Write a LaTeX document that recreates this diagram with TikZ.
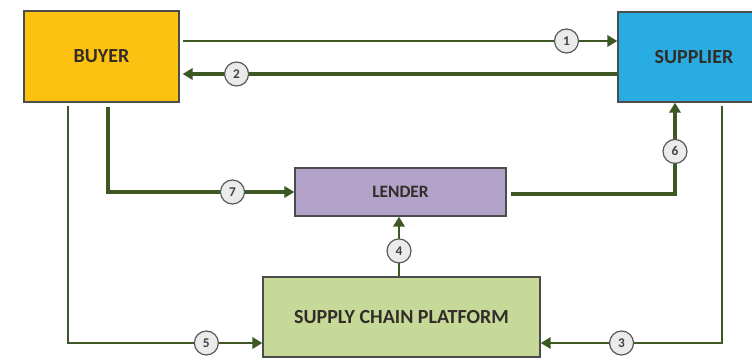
\documentclass[tikz,border=0pt]{standalone}
\usepackage{fontspec}
\setmainfont{Carlito}
\usetikzlibrary{arrows.meta}

\definecolor{buyercol}{RGB}{253,193,16}
\definecolor{suppliercol}{RGB}{41,172,226}
\definecolor{lendercol}{RGB}{178,161,200}
\definecolor{platformcol}{RGB}{198,217,152}
\definecolor{flowcol}{RGB}{62,88,36}
\definecolor{textcol}{RGB}{50,45,40}

\tikzset{
    party/.style={draw=black!70, line width=1pt, fill=#1, text=textcol,
        font=\fontsize{15}{18}\selectfont\bfseries, inner sep=0pt},
    flow/.style={draw=flowcol, line width=1.9pt, -{Triangle[length=7.5pt,width=8.5pt]}},
    flowbold/.style={flow, line width=2.8pt},
    badge/.style={circle, draw=black!65, line width=0.9pt, fill=black!8,
        minimum size=18pt, inner sep=0pt, text=black!75,
        font=\fontsize{10}{11}\selectfont\bfseries}
}

\begin{document}
\begin{tikzpicture}[x=0.75pt, y=-0.75pt]

    % Define variables
    \def\px{0.75pt}

    \useasboundingbox (0,0) rectangle (752,361);
    \fill[white] (0,0) rectangle (752,361);

    % Draw the four parties
    \node[party=buyercol, minimum width=155*\px, minimum height=91*\px] (buyer) at (101.5,56.5) {BUYER};
    \node[party=suppliercol, minimum width=152*\px, minimum height=90*\px] (supplier) at (694,57) {SUPPLIER};
    \node[party=lendercol, minimum width=211*\px, minimum height=48*\px,
        font=\fontsize{13}{15}\selectfont\bfseries] (lender) at (400.5,192) {LENDER};
    \node[party=platformcol, minimum width=277*\px, minimum height=80*\px] (platform) at (401.5,317) {SUPPLY CHAIN PLATFORM};

    % Buyer <-> Supplier
    \draw[flow] ([xshift=3*\px, yshift=15.5*\px]buyer.east) -- ([yshift=16*\px]supplier.west)
        node[badge, pos=0.883] {1};
    \draw[flowbold] ([yshift=-17*\px]supplier.west) -- ([xshift=3*\px, yshift=-17.5*\px]buyer.east)
        node[badge, pos=0.876] {2};

    % Supplier -> platform
    \draw[flow] ([xshift=28*\px, yshift=-3*\px]supplier.south) |- ([yshift=-26*\px]platform.east)
        node[badge, pos=0.777] {3};

    % Platform -> lender
    \draw[flow] ([xshift=-2.5*\px]platform.north) -- ([xshift=-1.5*\px]lender.south)
        node[badge, pos=0.426] {4};

    % Buyer -> platform
    \draw[flow] ([xshift=-33.5*\px, yshift=-3*\px]buyer.south) |- ([yshift=-26*\px]platform.west)
        node[badge, pos=0.856] {5};

    % Lender -> supplier
    \draw[flowbold] ([xshift=4*\px, yshift=-2*\px]lender.east) -| ([xshift=-19*\px]supplier.south)
        node[badge, pos=0.733] {6};

    % Buyer -> lender
    \draw[flowbold] ([xshift=6.5*\px, yshift=-4*\px]buyer.south) |- (lender.west)
        node[badge, pos=0.834] {7};

\end{tikzpicture}
\end{document}
